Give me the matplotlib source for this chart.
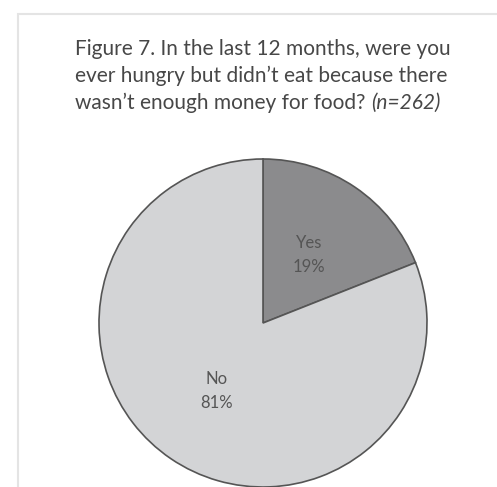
import matplotlib
matplotlib.use("Agg")
import matplotlib.pyplot as plt
from matplotlib.patches import Rectangle

# Survey answers (n=262)
answers = ["Yes", "No"]
shares = [19, 81]
colors = ["#8b8b8d", "#d3d4d6"]

W, H = 497, 487
fig = plt.figure(figsize=(W / 100, H / 100), dpi=100)
fig.patch.set_facecolor("white")

# light frame around the figure panel
fig.patches.append(Rectangle((18 / W, -0.1), 1.2, (H - 14) / H + 0.1,
                             transform=fig.transFigure, fill=False,
                             edgecolor="#e4e4e4", linewidth=1.5))

# title, left aligned, three lines
title_lines = [
    "Figure 7. In the last 12 months, were you",
    "ever hungry but didn\u2019t eat because there",
    "wasn\u2019t enough money for food? ",
]
fs = 15
y0 = 55
for i, line in enumerate(title_lines):
    fig.text(75 / W, 1 - (y0 + 27 * i) / H, line, fontsize=fs,
             family="Lato", color="#474747", va="baseline", ha="left")

# italic sample size follows the last line
r = fig.canvas.get_renderer()
bb = fig.texts[-1].get_window_extent(renderer=r)
fig.text(bb.x1 / W, 1 - (y0 + 54) / H, "(n=262)", fontsize=fs, family="Lato",
         style="italic", color="#474747", va="baseline", ha="left")

# pie centered at (263, 323) px, radius 164 px
cx, cy, rad = 263, 323, 164
ax = fig.add_axes([(cx - rad) / W, (H - cy - rad) / H, 2 * rad / W, 2 * rad / H])
labels = [f"{a}\n{s}%" for a, s in zip(answers, shares)]
wedges, texts = ax.pie(shares, colors=colors, startangle=90, counterclock=False,
                       labels=labels, labeldistance=0.5,
                       wedgeprops=dict(edgecolor="#555555", linewidth=1.2),
                       textprops=dict(fontsize=12, family="Lato", color="#555555",
                                      ha="center", va="center", linespacing=1.65))
ax.set_xlim(-1, 1)
ax.set_ylim(-1, 1)
ax.set_aspect("auto")
ax.axis("off")

fig.savefig("out.png", dpi=100)
